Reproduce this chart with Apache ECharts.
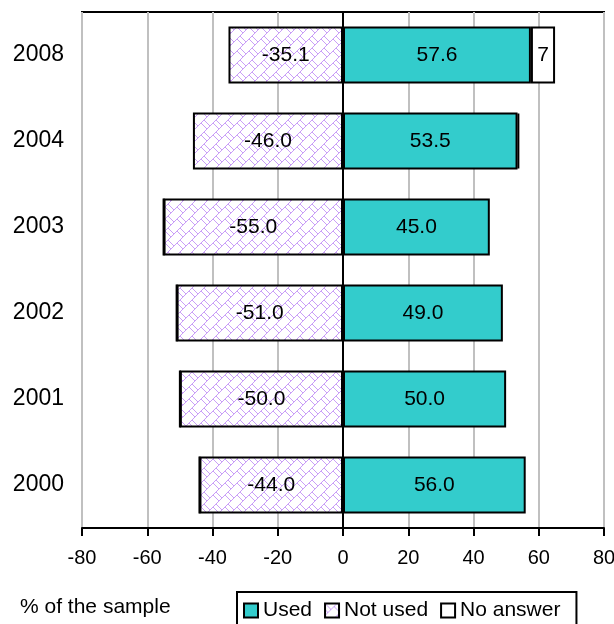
<!DOCTYPE html>
<html><head><meta charset="utf-8">
<script src="https://cdn.jsdelivr.net/npm/echarts@6/dist/echarts.min.js"></script>
<style>html,body{margin:0;padding:0;background:#fff}#c{width:614px;height:624px}</style>
</head><body><div id="c"></div>
<script>
const years = ['2008','2004','2003','2002','2001','2000'];
const used = [57.6, 53.5, 45.0, 49.0, 50.0, 56.0];
const notUsed = [-35.1, -46.0, -55.0, -51.0, -50.0, -44.0];
const noAnswer = [7.4, 0.5, 0, 0, 0, 0];
const xTicks = {min: -80, max: 80, interval: 20};

function makePattern(){
  const s = 12;
  const c = document.createElement('canvas');
  c.width = s; c.height = s;
  const g = c.getContext('2d');
  g.fillStyle = '#fff'; g.fillRect(0,0,s,s);
  g.strokeStyle = '#c99ff7'; g.lineWidth = 1;
  g.beginPath();
  g.moveTo(-1,s+1); g.lineTo(s+1,-1);
  g.moveTo(-1,1); g.lineTo(1,-1);
  g.moveTo(s-1,s+1); g.lineTo(s+1,s-1);
  g.moveTo(0,0); g.lineTo(s/2,s/2);
  g.moveTo(s*0.75,s*0.25); g.lineTo(s,s/2);
  g.moveTo(0,s/2); g.lineTo(s*0.25,s*0.75);
  g.stroke();
  return c;
}
const pat = {image: makePattern(), repeat: 'repeat'};

const chart = echarts.init(document.getElementById('c'), null, {renderer:'canvas'});
const lbl = {show:true, position:'inside', color:'#000', fontSize:21, fontFamily:'Liberation Sans, Arial'};
chart.setOption({
  animation:false,
  textStyle:{fontFamily:'Liberation Sans, Arial'},
  grid:{left:82, right:10, top:12, bottom:96, outerBoundsMode:'none', containLabel:false,
    show:true, borderColor:'#000', borderWidth:2, backgroundColor:'transparent'},
  xAxis:{type:'value', min:xTicks.min, max:xTicks.max, interval:xTicks.interval,
    axisLine:{show:true, lineStyle:{color:'#000', width:2}},
    axisTick:{show:true, length:8, lineStyle:{color:'#000', width:2}},
    axisLabel:{color:'#000', fontSize:20, margin:20},
    splitLine:{show:true, lineStyle:{color:'#c0c0c0', width:2}}},
  yAxis:{type:'category', data:years, inverse:true,
    axisLine:{show:false}, axisTick:{show:false},
    axisLabel:{color:'#000', fontSize:23, margin:18}},
  legend:{left:237, top:592, orient:'horizontal', padding:[8,16,20,6], itemGap:12,
    borderColor:'#000', borderWidth:2, itemWidth:14, itemHeight:14,
    textStyle:{fontSize:21, color:'#000'},
    data:[{name:'Used', icon:'rect'},{name:'Not used', icon:'rect'},{name:'No answer', icon:'rect'}]},
  graphic:[{type:'text', left:20, top:597, style:{text:'% of the sample', fontSize:21, fill:'#000', fontFamily:'Liberation Sans, Arial'}}],
  series:[
    {name:'Used', type:'bar', stack:'a', data:used, barCategoryGap:'34%',
      itemStyle:{color:'#33CCCC', borderColor:'#000', borderWidth:2},
      label:Object.assign({}, lbl, {formatter:p=>p.value.toFixed(1)}),
      markLine:{silent:true, symbol:'none', label:{show:false}, lineStyle:{color:'#000', width:2, type:'solid'}, data:[{xAxis:0}]}},
    {name:'Not used', type:'bar', stack:'a', data:notUsed,
      itemStyle:{color:pat, borderColor:'#000', borderWidth:2},
      label:Object.assign({}, lbl, {formatter:p=>p.value.toFixed(1)})},
    {name:'No answer', type:'bar', stack:'a', data:noAnswer,
      itemStyle:{color:'#fff', borderColor:'#000', borderWidth:2},
      label:Object.assign({}, lbl, {formatter:p=>p.value>=1?p.value.toFixed(0):''})}
  ]
});
</script></body></html>
